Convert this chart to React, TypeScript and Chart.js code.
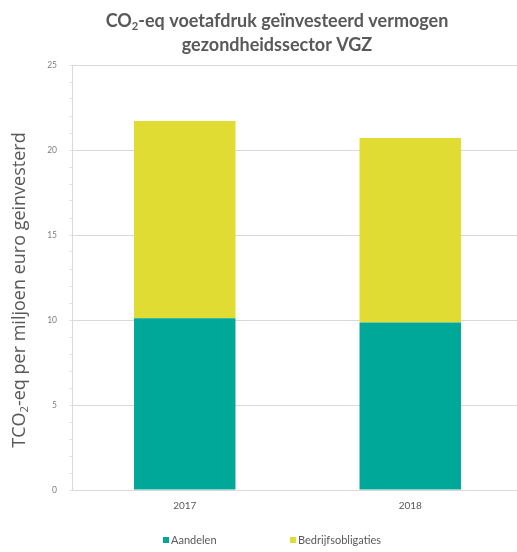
import React, { useEffect, useRef } from "react";
import { Chart, registerables } from "chart.js";

Chart.register(...registerables);

const categories = ["2017", "2018"];
const aandelen = [10.1, 9.85];
const bedrijfsobligaties = [11.6, 10.85];
const seriesLabels = ["Aandelen", "Bedrijfsobligaties"];
const yMin = 0;
const yMax = 25;

const TEAL = "#00A89A";
const YELLOW = "#E1DC33";
const TEXT = "#595959";
const FONT = "Lato, 'Open Sans', sans-serif";
const FONT2 = "'Open Sans', Lato, sans-serif";

function drawSegments(ctx: CanvasRenderingContext2D, segs: { t: string; sub?: boolean }[], x: number, y: number, size: number, weight: string, family: string) {
  let total = 0;
  const widths: number[] = [];
  for (const s of segs) {
    ctx.font = `${weight} ${s.sub ? size * 0.62 : size}px ${family}`;
    const w = ctx.measureText(s.t).width;
    widths.push(w);
    total += w;
  }
  let cx = x - total / 2;
  segs.forEach((s, i) => {
    ctx.font = `${weight} ${s.sub ? size * 0.62 : size}px ${family}`;
    ctx.fillText(s.t, cx, s.sub ? y + size * 0.28 : y);
    cx += widths[i];
  });
}

const decorPlugin = {
  id: "decor",
  afterDraw(chart: any) {
    const ctx: CanvasRenderingContext2D = chart.ctx;
    ctx.save();
    ctx.fillStyle = TEXT;
    ctx.textAlign = "left";
    ctx.textBaseline = "middle";
    // Title
    drawSegments(ctx, [{ t: "CO" }, { t: "2", sub: true }, { t: "-eq voetafdruk geïnvesteerd vermogen" }], 277, 21, 18, "bold", FONT);
    drawSegments(ctx, [{ t: "gezondheidssector VGZ" }], 277, 45, 18, "bold", FONT);
    // Y axis title
    ctx.save();
    ctx.translate(20, 290);
    ctx.rotate(-Math.PI / 2);
    drawSegments(ctx, [{ t: "TCO" }, { t: "2", sub: true }, { t: "-eq per miljoen euro geinvesterd" }], 0, 0, 18, "normal", FONT2);
    ctx.restore();
    // Legend
    const items = [
      { x: 163, label: chart.data.datasets[0].label, color: chart.data.datasets[0].backgroundColor },
      { x: 290, label: chart.data.datasets[1].label, color: chart.data.datasets[1].backgroundColor },
    ];
    const ly = 540;
    ctx.font = `normal 11px ${FONT}`;
    for (const it of items) {
      ctx.fillStyle = it.color;
      ctx.fillRect(it.x, ly - 3, 6, 6);
      ctx.fillStyle = TEXT;
      ctx.fillText(it.label, it.x + 8, ly);
    }
    ctx.restore();
  },
};

export default function App() {
  const ref = useRef<HTMLCanvasElement | null>(null);
  useEffect(() => {
    if (!ref.current) return;
    const chart = new Chart(ref.current, {
      type: "bar",
      data: {
        labels: categories,
        datasets: [
          { label: seriesLabels[0], data: aandelen, backgroundColor: TEAL, barPercentage: 0.45, categoryPercentage: 1 },
          { label: seriesLabels[1], data: bedrijfsobligaties, backgroundColor: YELLOW, barPercentage: 0.45, categoryPercentage: 1 },
        ],
      },
      options: {
        responsive: false,
        animation: false,
        layout: { padding: { top: 65, left: 0, right: 0, bottom: 30 } },
        plugins: { legend: { display: false }, title: { display: false }, tooltip: { enabled: false } },
        scales: {
          x: {
            stacked: true,
            grid: { display: false, drawTicks: false },
            border: { display: true, color: "#d9d9d9" },
            ticks: { color: TEXT, font: { family: FONT, size: 10 }, padding: 10 },
          },
          y: {
            stacked: true,
            min: yMin,
            max: yMax,
            afterFit: (s: any) => {
              s.width = 72;
            },
            border: { display: true, color: "#d9d9d9" },
            grid: {
              color: (c: any) => (c.tick && c.tick.value % 5 === 0 ? "#d9d9d9" : "rgba(0,0,0,0)"),
              tickColor: "#e3e3e3",
              tickLength: 3,
              drawTicks: true,
            },
            ticks: {
              stepSize: 1,
              autoSkip: false,
              color: "#7f7f7f",
              font: { family: FONT, size: 8.5 },
              padding: 12,
              callback: (v: any) => (Number(v) % 5 === 0 ? String(v) : ""),
            },
          },
        },
      },
      plugins: [decorPlugin],
    });
    return () => chart.destroy();
  }, []);
  return (
    <div style={{ position: "fixed", left: 0, top: 0, width: 517, height: 552, overflow: "hidden", background: "#fff" }}>
      <canvas ref={ref} width={523} height={552} style={{ width: 523, height: 552, display: "block" }} />
    </div>
  );
}
